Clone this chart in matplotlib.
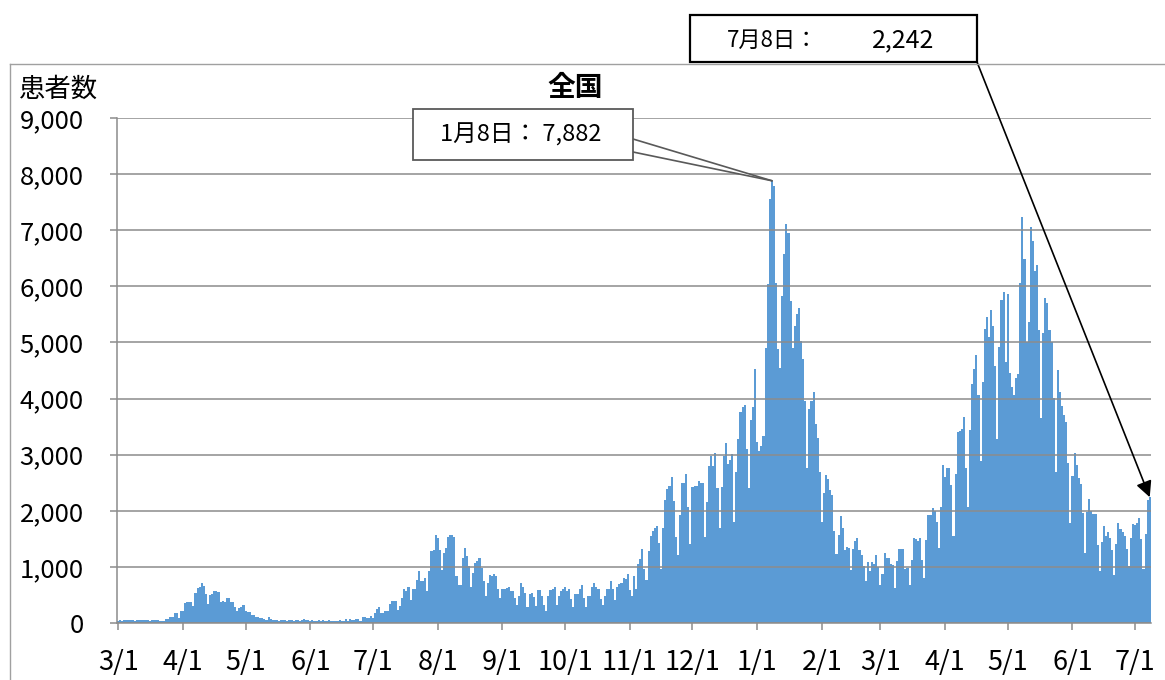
import matplotlib
matplotlib.use('Agg')
import matplotlib.pyplot as plt
import numpy as np
import pandas as pd
from matplotlib.patches import Rectangle, Polygon
from matplotlib.lines import Line2D
from matplotlib.ticker import FuncFormatter, MultipleLocator

plt.rcParams['font.family'] = ['Noto Sans CJK JP', 'DejaVu Sans']

START = '2020-03-01'
END = '2021-07-08'

mar20 = [30, 45, 40, 50, 55, 50, 48, 45, 35, 50, 52, 48, 55, 50, 45, 40, 50, 45, 48, 50,
         36, 40, 36, 77, 80, 105, 110, 178, 175, 95, 214]
apr20 = [220, 350, 374, 370, 374, 303, 540, 630, 640, 707, 660, 523, 345, 505, 511, 575, 570, 560, 380, 385,
         375, 440, 445, 380, 380, 285, 214, 273, 291, 315]
may20 = [205, 200, 202, 143, 140, 107, 105, 95, 90, 65, 60, 107, 65, 60, 50, 45, 40, 45, 50, 48,
         30, 45, 50, 40, 48, 45, 40, 45, 77, 48, 45]
jun20 = [40, 45, 42, 38, 45, 42, 48, 40, 42, 45, 42, 40, 38, 42, 45, 42, 40, 71, 42, 71,
         48, 48, 71, 71, 42, 100, 101, 89, 89, 130]
jul20 = [95, 178, 255, 279, 178, 180, 208, 210, 339, 398, 400, 386, 238, 297, 445, 606, 576, 641, 404, 606,
         610, 772, 932, 742, 742, 802, 576, 932, 1277, 1307, 1574]
aug20 = [1511, 1305, 953, 1246, 1335, 1540, 1560, 1570, 1529, 835, 676, 676, 1158, 1335, 1188, 1011, 647, 894, 1070, 1100,
         1158, 982, 747, 482, 706, 864, 835, 876, 835, 612, 453]
sep20 = [600, 600, 620, 641, 570, 570, 453, 318, 482, 706, 641, 541, 288, 512, 541, 470, 306, 582, 582, 482,
         323, 218, 482, 588, 600, 647, 323, 482, 570, 600]
oct20 = [641, 570, 600, 423, 288, 512, 512, 612, 670, 453, 288, 482, 490, 650, 706, 641, 612, 435, 318, 482,
         612, 612, 747, 612, 412, 641, 690, 706, 806, 776, 876]
nov20 = [594, 474, 834, 600, 1044, 1134, 1314, 954, 774, 1284, 1554, 1644, 1686, 1722, 1434, 954, 1686, 2196, 2394, 2436,
         2604, 2166, 1524, 1212, 1926, 2502, 2502, 2664, 2064, 1416]
dec20 = [2424, 2436, 2440, 2532, 2496, 2496, 1524, 2154, 2796, 2976, 2796, 3036, 2406, 1692, 2424, 2982, 3204, 2832, 2900, 3012,
         1794, 2694, 3276, 3756, 3846, 3882, 3096, 2412, 3624, 3852, 4524]
jan21 = [3230, 3064, 3153, 3331, 4893, 6050, 7548, 7882, 7785, 6063, 4875, 4549, 5826, 6568, 7102, 6954, 5736, 4905, 5291, 5499,
         5618, 5024, 4697, 3955, 2767, 3806, 3955, 4121, 3539, 3302, 2700]
feb21 = [1792, 2324, 2640, 2562, 2370, 2280, 1632, 1230, 1560, 1902, 1698, 1302, 1350, 1330, 942, 1320, 1458, 1518, 1302, 1218,
         1020, 750, 1080, 918, 1080, 1050, 1218, 990]
mar21 = [678, 882, 1248, 1158, 1158, 1050, 1038, 618, 1110, 1320, 1320, 1320, 960, 980, 678, 1122, 1518, 1500, 1470, 1518,
         1122, 810, 1482, 1920, 1920, 2058, 2000, 1800, 1334, 2075, 2816]
apr21 = [2599, 2765, 2763, 2468, 1553, 2650, 3408, 3420, 3450, 3675, 2756, 2075, 3438, 4268, 4535, 4772, 4061, 2887, 4298, 5246,
         5454, 5098, 5572, 5300, 4582, 3278, 4918, 5750, 5898, 4654]
may21 = [5857, 4451, 4214, 4065, 4362, 4442, 6054, 7244, 6479, 5015, 5371, 7057, 6800, 6267, 6380, 5223, 3650, 5163, 5786, 5697,
         5223, 5015, 4006, 2688, 4510, 4125, 3875, 3709, 3590, 2849, 1780]
jun21 = [2611, 3027, 2819, 2582, 2470, 1962, 1244, 1972, 2210, 1989, 1942, 1939, 1387, 935, 1435, 1731, 1555, 1626, 1514, 1309,
         851, 1416, 1786, 1681, 1626, 1550, 1327, 1012, 1506, 1758]
jul21 = [1753, 1776, 1880, 1499, 966, 1591, 2191, 2242]

values = (mar20 + apr20 + may20 + jun20 + jul20 + aug20 + sep20 + oct20 + nov20 + dec20 +
          jan21 + feb21 + mar21 + apr21 + may21 + jun21 + jul21)
dates = pd.date_range(START, END, freq='D')
n = min(len(values), len(dates))
values = values[:n]
dates = dates[:n]

title = '全国'
ylabel = '患者数'
peak_date = pd.Timestamp('2021-01-08')
peak_label = '1月8日： 7,882'
last_date = pd.Timestamp('2021-07-08')
last_label_date = '7月8日：'
last_label_value = '2,242'

month_starts = pd.date_range('2020-03-01', '2021-07-01', freq='MS')
tick_pos = [(m - dates[0]).days for m in month_starts]
tick_lbl = [f'{m.month}/1' for m in month_starts]

W, H = 1165, 680
fig = plt.figure(figsize=(W / 100, H / 100), dpi=100)
ax = fig.add_axes([117 / W, (H - 623) / H, 1034 / W, 505 / H])

x = np.arange(n)
ax.bar(x, values, width=1.0, color='#5b9bd5', linewidth=0, antialiased=False)
ax.set_xlim(-0.6, 494.6)
ax.set_ylim(0, 9000)
ax.yaxis.set_major_locator(MultipleLocator(1000))
ax.yaxis.set_major_formatter(FuncFormatter(lambda v, p: f'{int(v):,}'))
ax.set_xticks(tick_pos)
ax.set_xticklabels(tick_lbl)
ax.set_axisbelow(False)
ax.grid(axis='y', color='#8c8c8c', linewidth=1.1)
for s in ['top', 'right']:
    ax.spines[s].set_visible(False)
for s in ['left', 'bottom']:
    ax.spines[s].set_color('#8c8c8c')
    ax.spines[s].set_linewidth(1.1)
ax.tick_params(axis='both', direction='out', length=5, width=1.1, color='#8c8c8c',
               labelcolor='black')
ax.tick_params(axis='y', pad=19, labelsize=18.5)
ax.tick_params(axis='x', pad=14, labelsize=19.5)

# outer chart border
fig.add_artist(Line2D([10 / W, 10 / W], [0, 1 - 64 / H], transform=fig.transFigure,
                      color='#a0a0a0', lw=1.0))
fig.add_artist(Line2D([10 / W, 1], [1 - 64 / H, 1 - 64 / H], transform=fig.transFigure,
                      color='#a0a0a0', lw=1.0))

fig.text(575 / W, 1 - 88 / H, title, ha='center', va='center', fontsize=20, fontweight='bold')
fig.text(19 / W, 1 - 89 / H, ylabel, ha='left', va='center', fontsize=19)

# peak callout
peak_i = (peak_date - dates[0]).days
tip_disp = ax.transData.transform((peak_i, values[peak_i]))
tip = fig.transFigure.inverted().transform(tip_disp)
wedge = Polygon([(633 / W, 1 - 139 / H), (tip[0], tip[1]), (633 / W, 1 - 152 / H)],
                closed=True, transform=fig.transFigure, facecolor='white', edgecolor='none', zorder=5)
fig.add_artist(wedge)
for yy in (139, 152):
    fig.add_artist(Line2D([633 / W, tip[0]], [1 - yy / H, tip[1]], transform=fig.transFigure,
                          color='#595959', lw=1.2, zorder=6))
fig.add_artist(Rectangle((413 / W, 1 - 160 / H), 220 / W, 51 / H, transform=fig.transFigure,
                         facecolor='white', edgecolor='#595959', lw=1.3, zorder=6))
fig.text(521 / W, 1 - 135 / H, peak_label, ha='center', va='center', fontsize=17, zorder=7)

# last-day callout with arrow
last_i = (last_date - dates[0]).days
fig.add_artist(Rectangle((690 / W, 1 - 62 / H), 287 / W, 47 / H, transform=fig.transFigure,
                         facecolor='white', edgecolor='black', lw=1.6, zorder=6))
fig.text(773 / W, 1 - 40 / H, last_label_date, ha='center', va='center', fontsize=16, zorder=7)
fig.text(903 / W, 1 - 40 / H, last_label_value, ha='center', va='center', fontsize=18, zorder=7)
ax.annotate('', xy=(last_i, values[last_i]), xycoords='data',
            xytext=(977 / W, 1 - 62 / H), textcoords='figure fraction',
            arrowprops=dict(arrowstyle='-|>', color='black', lw=1.2, mutation_scale=24,
                            shrinkA=0, shrinkB=0),
            annotation_clip=False, zorder=8)

fig.savefig('out.png', dpi=100)
